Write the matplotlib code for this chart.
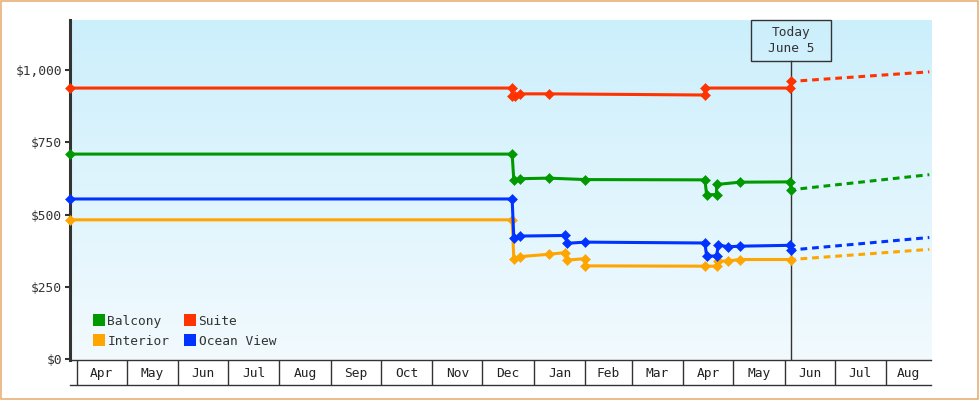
import matplotlib
matplotlib.use("Agg")
import matplotlib.pyplot as plt
import matplotlib.dates as mdates
import matplotlib.transforms as mtransforms
from matplotlib.colors import LinearSegmentedColormap
from matplotlib.lines import Line2D
from matplotlib.patches import Rectangle
from matplotlib.ticker import FuncFormatter
import numpy as np
import pandas as pd

# price history per cabin type
suite_dates = ["2022-03-28", "2022-12-19", "2022-12-19", "2022-12-21", "2022-12-24", "2023-01-10",
               "2023-04-14", "2023-04-14", "2023-06-04", "2023-06-05"]
suite_values = [937, 937, 909, 909, 917, 917, 913, 937, 937, 960]
suite_forecast = [960, 993]

balcony_dates = ["2022-03-28", "2022-12-19", "2022-12-20", "2022-12-24", "2023-01-10", "2023-02-01",
                 "2023-04-14", "2023-04-15", "2023-04-21", "2023-04-21", "2023-05-05", "2023-06-04",
                 "2023-06-05"]
balcony_values = [709, 709, 620, 624, 626, 621, 620, 569, 569, 604, 612, 613, 586]
balcony_forecast = [586, 638]

ocean_dates = ["2022-03-28", "2022-12-19", "2022-12-20", "2022-12-24", "2023-01-20", "2023-01-21",
               "2023-02-01", "2023-04-14", "2023-04-15", "2023-04-21", "2023-04-22", "2023-04-28",
               "2023-05-05", "2023-06-04", "2023-06-05"]
ocean_values = [554, 554, 420, 426, 428, 401, 405, 402, 357, 357, 395, 389, 391, 394, 378]
ocean_forecast = [378, 421]

interior_dates = ["2022-03-28", "2022-12-19", "2022-12-20", "2022-12-24", "2023-01-10", "2023-01-20",
                  "2023-01-21", "2023-02-01", "2023-02-01", "2023-04-14", "2023-04-21", "2023-04-22",
                  "2023-04-28", "2023-05-05", "2023-06-05"]
interior_values = [482, 482, 348, 355, 363, 369, 343, 348, 323, 322, 322, 339, 340, 345, 345]
interior_forecast = [345, 380]

today = "2023-06-05"
forecast_end = "2023-08-27"
x_start = "2022-03-28"
x_end = "2023-08-28"

month_starts = ["2022-04-01", "2022-05-01", "2022-06-01", "2022-07-01", "2022-08-01", "2022-09-01",
                "2022-10-01", "2022-11-01", "2022-12-01", "2023-01-01", "2023-02-01", "2023-03-01",
                "2023-04-01", "2023-05-01", "2023-06-01", "2023-07-01", "2023-08-01"]
month_labels = ["Apr", "May", "Jun", "Jul", "Aug", "Sep", "Oct", "Nov", "Dec",
                "Jan", "Feb", "Mar", "Apr", "May", "Jun", "Jul", "Aug"]
y_ticks = [0, 250, 500, 750, 1000]

plt.rcParams['font.family'] = ['DejaVu Sans Mono']
plt.rcParams['font.size'] = 9.3
dark = "#333333"

fig = plt.figure(figsize=(9.8, 4.0), dpi=100)
L, R = 70 / 980, 931 / 980
ax = fig.add_axes([L, 40 / 400, R - L, 340 / 400])
axm = fig.add_axes([L, 15 / 400, R - L, 25 / 400], sharex=ax)

# gradient background of the plot area
grad = np.linspace(0, 1, 256).reshape(-1, 1)
cmap = LinearSegmentedColormap.from_list("bg", ["#cceffc", "#f2fafe"])
ax.imshow(grad, extent=[0, 1, 0, 1], transform=ax.transAxes, aspect='auto', cmap=cmap, zorder=0)

series = [
    ("Balcony", "#009900", balcony_dates, balcony_values, balcony_forecast),
    ("Interior", "#ffa500", interior_dates, interior_values, interior_forecast),
    ("Suite", "#ff3300", suite_dates, suite_values, suite_forecast),
    ("Ocean View", "#0033ff", ocean_dates, ocean_values, ocean_forecast),
]
for name, color, d, v, fc in series:
    ax.plot(pd.to_datetime(d), v, color=color, lw=2.2, marker='D', ms=5.2, mew=0.4, mec=color,
            clip_on=False, zorder=3)
    ax.plot(pd.to_datetime([today, forecast_end]), fc, color=color, lw=2.2,
            ls=(0.8, (2.2, 1.6)), zorder=3)

ax.set_xlim(pd.Timestamp(x_start), pd.Timestamp(x_end))
ax.set_ylim(-2, 1172)
ax.set_yticks(y_ticks)
ax.yaxis.set_major_formatter(FuncFormatter(lambda v, p: f"${v:,.0f}"))
ax.tick_params(axis='y', length=3.6, width=1.5, color=dark, labelcolor=dark, pad=2)
ax.tick_params(axis='x', bottom=False, labelbottom=False)
for s in ['top', 'right', 'bottom']:
    ax.spines[s].set_visible(False)
ax.spines['left'].set_linewidth(2.2)
ax.spines['left'].set_color(dark)

# today marker
t = mdates.date2num(pd.Timestamp(today))
box_h = 0.12
blend = mtransforms.blended_transform_factory(ax.transData, ax.transAxes)
ax.axvline(pd.Timestamp(today), ymin=0, ymax=1 - box_h, color=dark, lw=1, zorder=2)
ax.add_patch(Rectangle((t - 24, 1 - box_h), 48, box_h, transform=blend, fill=False,
                       ec=dark, lw=1, clip_on=False, zorder=4))
ax.text(t, 1 - box_h / 2, "Today\nJune 5", transform=blend, ha='center', va='center',
        multialignment='center', linespacing=1.35, color=dark, zorder=5)

# legend
handles = [Line2D([], [], ls='none', marker='s', ms=8, mew=0, color=c) for _, c, *_ in series]
ax.legend(handles, [s[0] for s in series], ncol=2, loc='lower left',
          bbox_to_anchor=(0.027, 0.036), frameon=False, handlelength=0.9,
          handletextpad=0.2, columnspacing=1.15, labelspacing=0.55, borderpad=0,
          borderaxespad=0, labelcolor=dark)

# month boxes below the axis
axm.set_ylim(0, 1)
axm.set_yticks([])
axm.patch.set_alpha(0)
axm.tick_params(axis='x', bottom=False, labelbottom=False)
for s in ['left', 'right']:
    axm.spines[s].set_visible(False)
for s in ['top', 'bottom']:
    axm.spines[s].set_color(dark)
    axm.spines[s].set_linewidth(1.0)
edges = [mdates.date2num(pd.Timestamp(m)) for m in month_starts] + [mdates.date2num(pd.Timestamp(x_end))]
for e in edges[:-1]:
    axm.axvline(e, color=dark, lw=1.0)
for lo, hi, lab in zip(edges[:-1], edges[1:], month_labels):
    axm.text((lo + hi) / 2, 0.45, lab, ha='center', va='center', color='#222222')

# outer border
fig.add_artist(Rectangle((0.6 / 980, 0.6 / 400), 977.7 / 980, 398.8 / 400, transform=fig.transFigure,
                         fill=False, ec="#e6aa6c", lw=1.1))

fig.savefig("out.png", dpi=100, facecolor='white')
